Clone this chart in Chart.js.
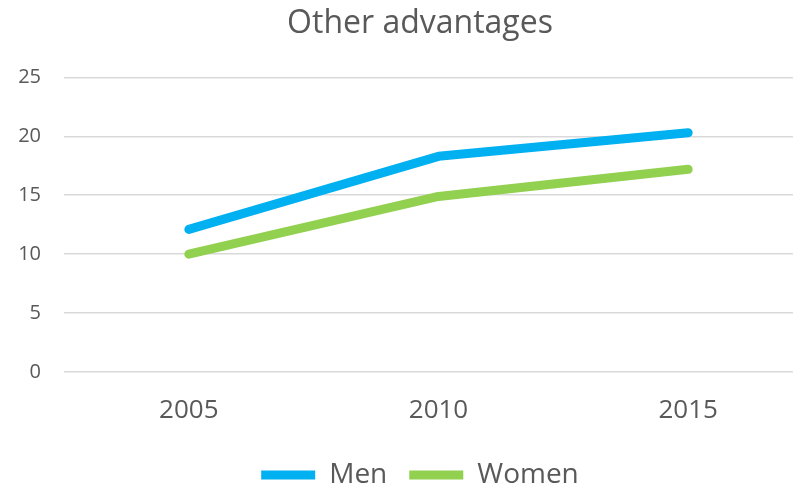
<!DOCTYPE html>
<html>
<head>
<meta charset="utf-8">
<script src="https://cdn.jsdelivr.net/npm/chart.js@4.4.1/dist/chart.umd.min.js"></script>
<style>
  html, body { margin: 0; padding: 0; background: #ffffff; overflow: hidden; }
  #wrap { width: 840px; height: 489px; position: relative; }
</style>
</head>
<body>
<div id="wrap"><canvas id="chart"></canvas></div>
<script>
// Survey years and share of respondents reporting other advantages
const years = ['2005', '2010', '2015'];
const men = [12.1, 18.3, 20.3];
const women = [10.0, 14.9, 17.2];
const yTicks = [0, 5, 10, 15, 20, 25];

const textColor = '#595959';
const gridColor = '#d9d9d9';
const fontFamily = '"Open Sans", "Liberation Sans", sans-serif';

new Chart(document.getElementById('chart'), {
  type: 'line',
  data: {
    labels: years,
    datasets: [
      {
        label: 'Men',
        data: men,
        borderColor: '#00b0f0',
        backgroundColor: '#00b0f0',
        borderWidth: 9,
        borderCapStyle: 'round',
        borderJoinStyle: 'round',
        pointRadius: 0,
        pointHoverRadius: 0,
        tension: 0
      },
      {
        label: 'Women',
        data: women,
        borderColor: '#92d050',
        backgroundColor: '#92d050',
        borderWidth: 9,
        borderCapStyle: 'round',
        borderJoinStyle: 'round',
        pointRadius: 0,
        pointHoverRadius: 0,
        tension: 0
      }
    ]
  },
  options: {
    responsive: true,
    maintainAspectRatio: false,
    animation: false,
    layout: { padding: { left: 0, right: 0, top: 0, bottom: -10 } },
    plugins: {
      tooltip: { enabled: false },
      title: {
        display: true,
        text: 'Other advantages',
        color: textColor,
        font: { family: fontFamily, size: 32, weight: 'normal' },
        padding: { top: 5, bottom: 34 }
      },
      legend: {
        display: true,
        position: 'bottom',
        labels: {
          color: textColor,
          font: { family: fontFamily, size: 28 },
          usePointStyle: true,
          pointStyle: 'line',
          pointStyleWidth: 54,
          boxHeight: 9,
          padding: 22
        }
      }
    },
    scales: {
      x: {
        offset: true,
        grid: { display: false, drawTicks: false },
        border: { display: false },
        ticks: {
          color: textColor,
          font: { family: fontFamily, size: 26 },
          padding: 23
        },
        afterFit: (scale) => { scale.height = 67; }
      },
      y: {
        min: 0,
        max: 25,
        afterBuildTicks: (scale) => { scale.ticks = yTicks.map(v => ({ value: v })); },
        grid: { color: gridColor, lineWidth: 1.5, drawTicks: false },
        border: { display: false },
        ticks: {
          color: textColor,
          font: { family: fontFamily, size: 20 },
          padding: 23
        },
        afterFit: (scale) => { scale.width = 64; }
      },
      // empty right-hand margin beside the plot
      yRight: {
        position: 'right',
        min: 0,
        max: 25,
        grid: { display: false, drawTicks: false },
        border: { display: false },
        ticks: { display: false },
        afterFit: (scale) => { scale.width = 27; }
      }
    }
  }
});
</script>
</body>
</html>
